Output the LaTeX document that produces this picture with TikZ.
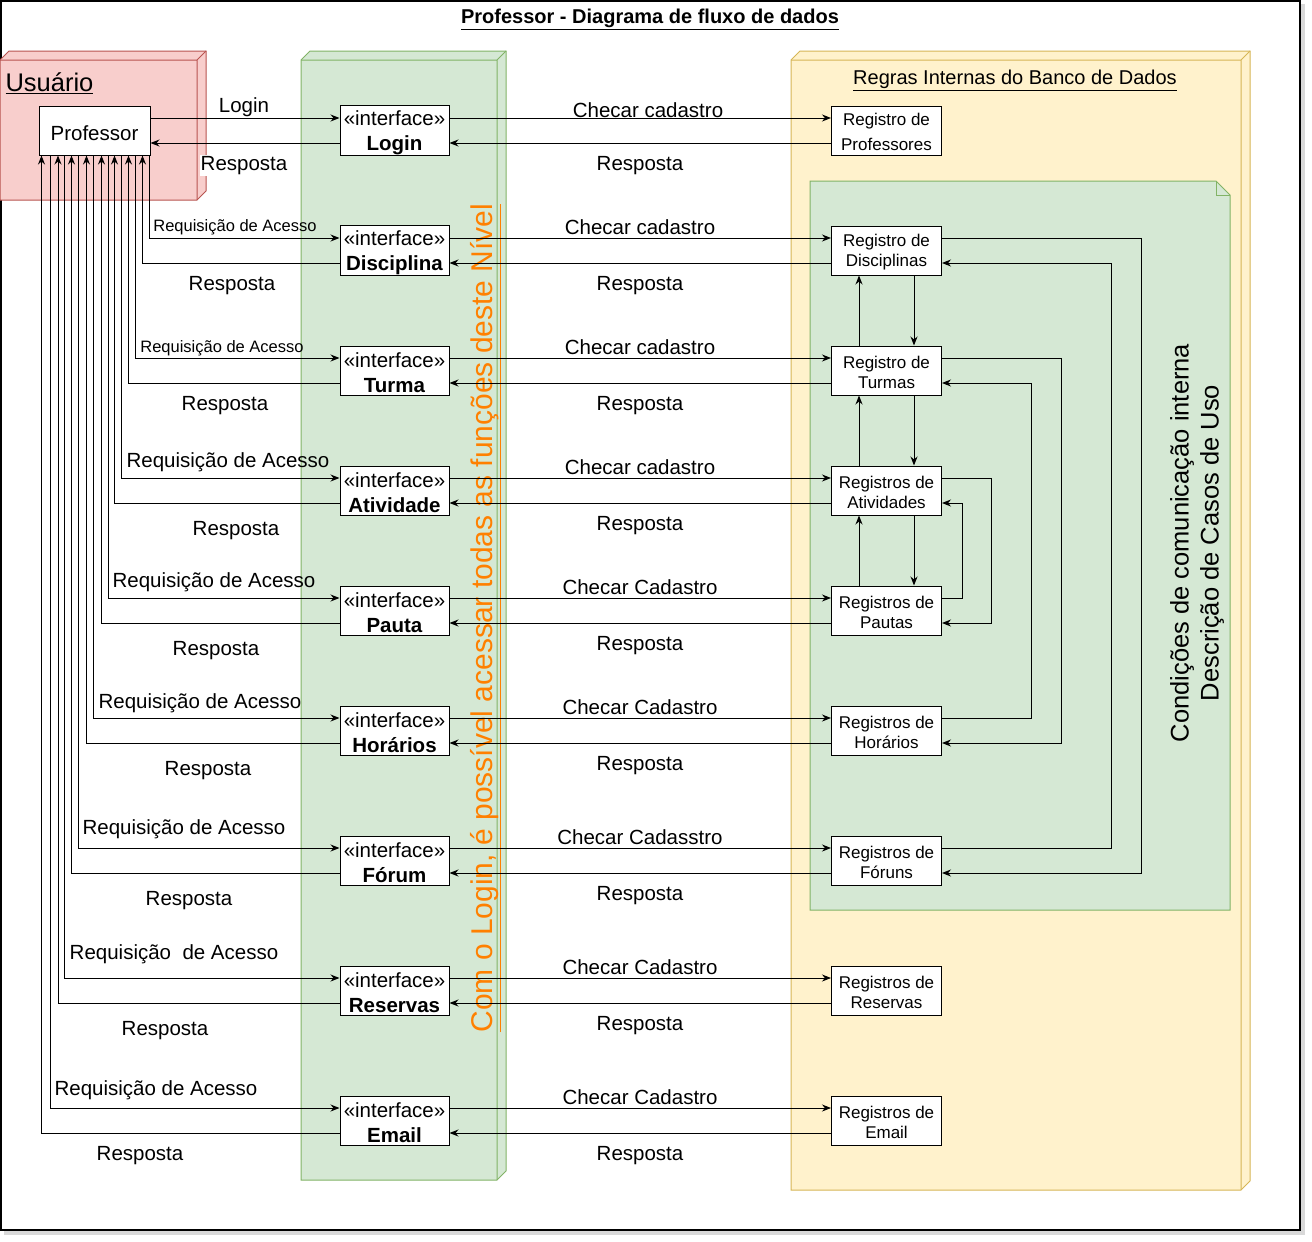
\documentclass[tikz,border=0pt]{standalone}
\usepackage{fontspec}
\setmainfont{Liberation Sans}
\usetikzlibrary{arrows.meta}

\definecolor{usrfill}{HTML}{F8CECC}
\definecolor{usrline}{HTML}{B85450}
\definecolor{ifcfill}{HTML}{D5E8D4}
\definecolor{ifcline}{HTML}{82B366}
\definecolor{dbfill}{HTML}{FFF2CC}
\definecolor{dbline}{HTML}{D6B656}
\definecolor{nivel}{HTML}{FF8000}

\tikzset{
  iface/.style={draw, fill=white, minimum width=109pt, minimum height=49pt, inner sep=0pt, align=center, font=\fontsize{20.5}{25}\selectfont},
  reg/.style={draw, fill=white, minimum width=110pt, minimum height=49pt, inner sep=0pt, align=center, font=\fontsize{17}{20}\selectfont},
  lbl/.style={inner sep=1pt, yshift=-2.5pt, font=\fontsize{20.5}{24}\selectfont},
  lblsmall/.style={inner sep=1pt, yshift=-2pt, font=\fontsize{16.5}{20}\selectfont}
}

\begin{document}
\begin{tikzpicture}[x=1pt, y=-1pt, line width=1pt, >={Stealth[length=9pt,width=7pt]}]
  \useasboundingbox (0,0) rectangle (1312,1242);
  % frame
  \fill[black!15] (4,4) rectangle (1305,1235);
  \draw[fill=white, line width=1.3pt] (1,1) rectangle (1300,1230);
  \node at (650,19.5) (titulo) {\fontsize{20}{24}\selectfont\textbf{\underline{Professor - Diagrama de fluxo de dados}}};

  % blocks
  \draw[usrline, fill=usrfill] (0,60) -- (9,51) -- (206,51) -- (206,191) -- (197,200) -- (0,200) -- cycle;
  \draw[usrline] (0,60) -- (197,60) -- (197,200) (197,60) -- (206,51);
  \draw[ifcline, fill=ifcfill] (301,60) -- (310,51) -- (506,51) -- (506,1171) -- (497,1180) -- (301,1180) -- cycle;
  \draw[ifcline] (301,60) -- (497,60) -- (497,1180) (497,60) -- (506,51);
  \draw[dbline, fill=dbfill] (791,60) -- (800,51) -- (1250,51) -- (1250,1181) -- (1241,1190) -- (791,1190) -- cycle;
  \draw[dbline] (791,60) -- (1241,60) -- (1241,1190) (1241,60) -- (1250,51);
  \draw[ifcline, fill=ifcfill] (810,181) -- (1216,181) -- (1230,195) -- (1230,910) -- (810,910) -- cycle;
  \draw[ifcline] (1216,181) -- (1216,195) -- (1230,195);

  \node[anchor=west, inner sep=0pt] at (5,83) (tusr) {\fontsize{25.5}{30}\selectfont\underline{Usuário}};
  \node at (1015,80.5) (tregras) {\fontsize{20}{24}\selectfont\underline{Regras Internas do Banco de Dados}};
  \node[rotate=90, align=center, font=\fontsize{25.5}{30}\selectfont] at (1197,543) (tcond) {Condições de comunicação interna\\Descrição de Casos de Uso};
  \node[rotate=90, text=nivel, font=\fontsize{30}{36}\selectfont] at (486,618) (tnivel) {\underline{Com o Login, é possível acessar todas as funções deste Nível}};

  % nodes
  \node[draw, fill=white, minimum width=111pt, minimum height=49pt, inner sep=0pt, font=\fontsize{20.5}{25}\selectfont] at (94.5,130.5) (prof) {\rule{0pt}{20pt}Professor};

  \node[iface] at (394.5,130.5) (ilogin) {\rule{0pt}{20pt}«interface»\\\textbf{Login}};
  \node[iface] at (394.5,250.5) (idisc) {\rule{0pt}{20pt}«interface»\\\textbf{Disciplina}};
  \node[iface] at (394.5,370.5) (iturma) {\rule{0pt}{20pt}«interface»\\\textbf{Turma}};
  \node[iface] at (394.5,490.5) (iativ) {\rule{0pt}{20pt}«interface»\\\textbf{Atividade}};
  \node[iface] at (394.5,610.5) (ipauta) {\rule{0pt}{20pt}«interface»\\\textbf{Pauta}};
  \node[iface] at (394.5,730.5) (ihor) {\rule{0pt}{20pt}«interface»\\\textbf{Horários}};
  \node[iface] at (394.5,860.5) (iforum) {\rule{0pt}{20pt}«interface»\\\textbf{Fórum}};
  \node[iface] at (394.5,990.5) (ires) {\rule{0pt}{20pt}«interface»\\\textbf{Reservas}};
  \node[iface] at (394.5,1120.5) (iemail) {\rule{0pt}{20pt}«interface»\\\textbf{Email}};

  \node[reg] at (886.5,130.5) (rprof) {\rule{0pt}{16pt}Registro de\\[5pt]Professores};
  \node[reg] at (886.5,250.5) (rdisc) {\rule{0pt}{16pt}Registro de\\Disciplinas};
  \node[reg] at (886.5,370.5) (rturma) {\rule{0pt}{16pt}Registro de\\Turmas};
  \node[reg] at (886.5,490.5) (rativ) {\rule{0pt}{16pt}Registros de\\Atividades};
  \node[reg] at (886.5,610.5) (rpauta) {\rule{0pt}{16pt}Registros de\\Pautas};
  \node[reg] at (886.5,730.5) (rhor) {\rule{0pt}{16pt}Registros de\\Horários};
  \node[reg] at (886.5,860.5) (rforum) {\rule{0pt}{16pt}Registros de\\Fóruns};
  \node[reg] at (886.5,990.5) (rres) {\rule{0pt}{16pt}Registros de\\Reservas};
  \node[reg] at (886.5,1120.5) (remail) {\rule{0pt}{16pt}Registros de\\Email};

  % professor <-> interfaces
  \draw[->] ([yshift=12.5]prof.east) -- ([yshift=12.5]ilogin.west);
  \draw[->] ([yshift=-12.5]ilogin.west) -- ([yshift=-12.5]prof.east);
  \draw[->] ([xshift=111]prof.south west) |- ([yshift=12.5]idisc.west);
  \draw[->] ([yshift=-12.5]idisc.west) -| ([xshift=104]prof.south west);
  \draw[->] ([xshift=97]prof.south west) |- ([yshift=12.5]iturma.west);
  \draw[->] ([yshift=-12.5]iturma.west) -| ([xshift=90]prof.south west);
  \draw[->] ([xshift=83]prof.south west) |- ([yshift=12.5]iativ.west);
  \draw[->] ([yshift=-12.5]iativ.west) -| ([xshift=76]prof.south west);
  \draw[->] ([xshift=69.5]prof.south west) |- ([yshift=12.5]ipauta.west);
  \draw[->] ([yshift=-12.5]ipauta.west) -| ([xshift=63]prof.south west);
  \draw[->] ([xshift=55]prof.south west) |- ([yshift=12.5]ihor.west);
  \draw[->] ([yshift=-12.5]ihor.west) -| ([xshift=48]prof.south west);
  \draw[->] ([xshift=40]prof.south west) |- ([yshift=12.5]iforum.west);
  \draw[->] ([yshift=-12.5]iforum.west) -| ([xshift=33]prof.south west);
  \draw[->] ([xshift=26]prof.south west) |- ([yshift=12.5]ires.west);
  \draw[->] ([yshift=-12.5]ires.west) -| ([xshift=19.5]prof.south west);
  \draw[->] ([xshift=12]prof.south west) |- ([yshift=12.5]iemail.west);
  \draw[->] ([yshift=-12.5]iemail.west) -| ([xshift=3]prof.south west);

  % interfaces <-> registros
  \draw[->] ([yshift=12.5]ilogin.east) -- ([yshift=12.5]rprof.west);
  \draw[->] ([yshift=-12.5]rprof.west) -- ([yshift=-12.5]ilogin.east);
  \draw[->] ([yshift=12.5]idisc.east) -- ([yshift=12.5]rdisc.west);
  \draw[->] ([yshift=-12.5]rdisc.west) -- ([yshift=-12.5]idisc.east);
  \draw[->] ([yshift=12.5]iturma.east) -- ([yshift=12.5]rturma.west);
  \draw[->] ([yshift=-12.5]rturma.west) -- ([yshift=-12.5]iturma.east);
  \draw[->] ([yshift=12.5]iativ.east) -- ([yshift=12.5]rativ.west);
  \draw[->] ([yshift=-12.5]rativ.west) -- ([yshift=-12.5]iativ.east);
  \draw[->] ([yshift=12.5]ipauta.east) -- ([yshift=12.5]rpauta.west);
  \draw[->] ([yshift=-12.5]rpauta.west) -- ([yshift=-12.5]ipauta.east);
  \draw[->] ([yshift=12.5]ihor.east) -- ([yshift=12.5]rhor.west);
  \draw[->] ([yshift=-12.5]rhor.west) -- ([yshift=-12.5]ihor.east);
  \draw[->] ([yshift=12.5]iforum.east) -- ([yshift=12.5]rforum.west);
  \draw[->] ([yshift=-12.5]rforum.west) -- ([yshift=-12.5]iforum.east);
  \draw[->] ([yshift=12.5]ires.east) -- ([yshift=12.5]rres.west);
  \draw[->] ([yshift=-12.5]rres.west) -- ([yshift=-12.5]ires.east);
  \draw[->] ([yshift=12.5]iemail.east) -- ([yshift=12.5]remail.west);
  \draw[->] ([yshift=-12.5]remail.west) -- ([yshift=-12.5]iemail.east);

  % registros internos
  \draw[->] ([xshift=27.5]rdisc.south) -- ([xshift=27.5]rturma.north);
  \draw[->] ([xshift=-27.5]rturma.north) -- ([xshift=-27.5]rdisc.south);
  \draw[->] ([xshift=27.5]rturma.south) -- ([xshift=27.5]rativ.north);
  \draw[->] ([xshift=-27.5]rativ.north) -- ([xshift=-27.5]rturma.south);
  \draw[->] ([xshift=27.5]rativ.south) -- ([xshift=27.5]rpauta.north);
  \draw[->] ([xshift=-27.5]rpauta.north) -- ([xshift=-27.5]rativ.south);
  \draw[->] ([yshift=12.5]rdisc.east) -- ++(199,0) |- ([yshift=-12.5]rforum.east);
  \draw[->] ([yshift=12.5]rforum.east) -- ++(169,0) |- ([yshift=-12.5]rdisc.east);
  \draw[->] ([yshift=12.5]rturma.east) -- ++(119,0) |- ([yshift=-12.5]rhor.east);
  \draw[->] ([yshift=12.5]rhor.east) -- ++(89,0) |- ([yshift=-12.5]rturma.east);
  \draw[->] ([yshift=12.5]rativ.east) -- ++(49,0) |- ([yshift=-12.5]rpauta.east);
  \draw[->] ([yshift=12.5]rpauta.east) -- ++(20,0) |- ([yshift=-12.5]rativ.east);

  % labels
  \node[lbl] at (244,105) (llogin) {Login};
  \node[lbl, fill=white] at (244,163) (lrlogin) {Resposta};
  \node[lblsmall] at (235,225) (lqdisc) {Requisição de Acesso};
  \node[lbl] at (232,283) (lrdisc) {Resposta};
  \node[lblsmall] at (222,346) (lqturma) {Requisição de Acesso};
  \node[lbl] at (225,403) (lrturma) {Resposta};
  \node[lbl] at (228,460) (lqativ) {Requisição de Acesso};
  \node[lbl] at (236,528) (lrativ) {Resposta};
  \node[lbl] at (214,580) (lqpauta) {Requisição de Acesso};
  \node[lbl] at (216,648) (lrpauta) {Resposta};
  \node[lbl] at (200,701) (lqhor) {Requisição de Acesso};
  \node[lbl] at (208,768) (lrhor) {Resposta};
  \node[lbl] at (184,827) (lqforum) {Requisição de Acesso};
  \node[lbl] at (189,898) (lrforum) {Resposta};
  \node[lbl] at (174,952) (lqres) {Requisição\ \ de Acesso};
  \node[lbl] at (165,1028) (lrres) {Resposta};
  \node[lbl] at (156,1088) (lqemail) {Requisição de Acesso};
  \node[lbl] at (140,1153) (lremail) {Resposta};

  \node[lbl] at (648,108) (cprof) {Checar cadastro};
  \node[lbl] at (640,163) (crprof) {Resposta};
  \node[lbl] at (640,225) (cdisc) {Checar cadastro};
  \node[lbl] at (640,283) (crdisc) {Resposta};
  \node[lbl] at (640,345) (cturma) {Checar cadastro};
  \node[lbl] at (640,403) (crturma) {Resposta};
  \node[lbl] at (640,465) (cativ) {Checar cadastro};
  \node[lbl] at (640,523) (crativ) {Resposta};
  \node[lbl] at (640,585) (cpauta) {Checar Cadastro};
  \node[lbl] at (640,643) (crpauta) {Resposta};
  \node[lbl] at (640,705) (chor) {Checar Cadastro};
  \node[lbl] at (640,763) (crhor) {Resposta};
  \node[lbl] at (640,835) (cforum) {Checar Cadasstro};
  \node[lbl] at (640,893) (crforum) {Resposta};
  \node[lbl] at (640,965) (cres) {Checar Cadastro};
  \node[lbl] at (640,1023) (crres) {Resposta};
  \node[lbl] at (640,1095) (cemail) {Checar Cadastro};
  \node[lbl] at (640,1153) (cremail) {Resposta};
\end{tikzpicture}
\end{document}
